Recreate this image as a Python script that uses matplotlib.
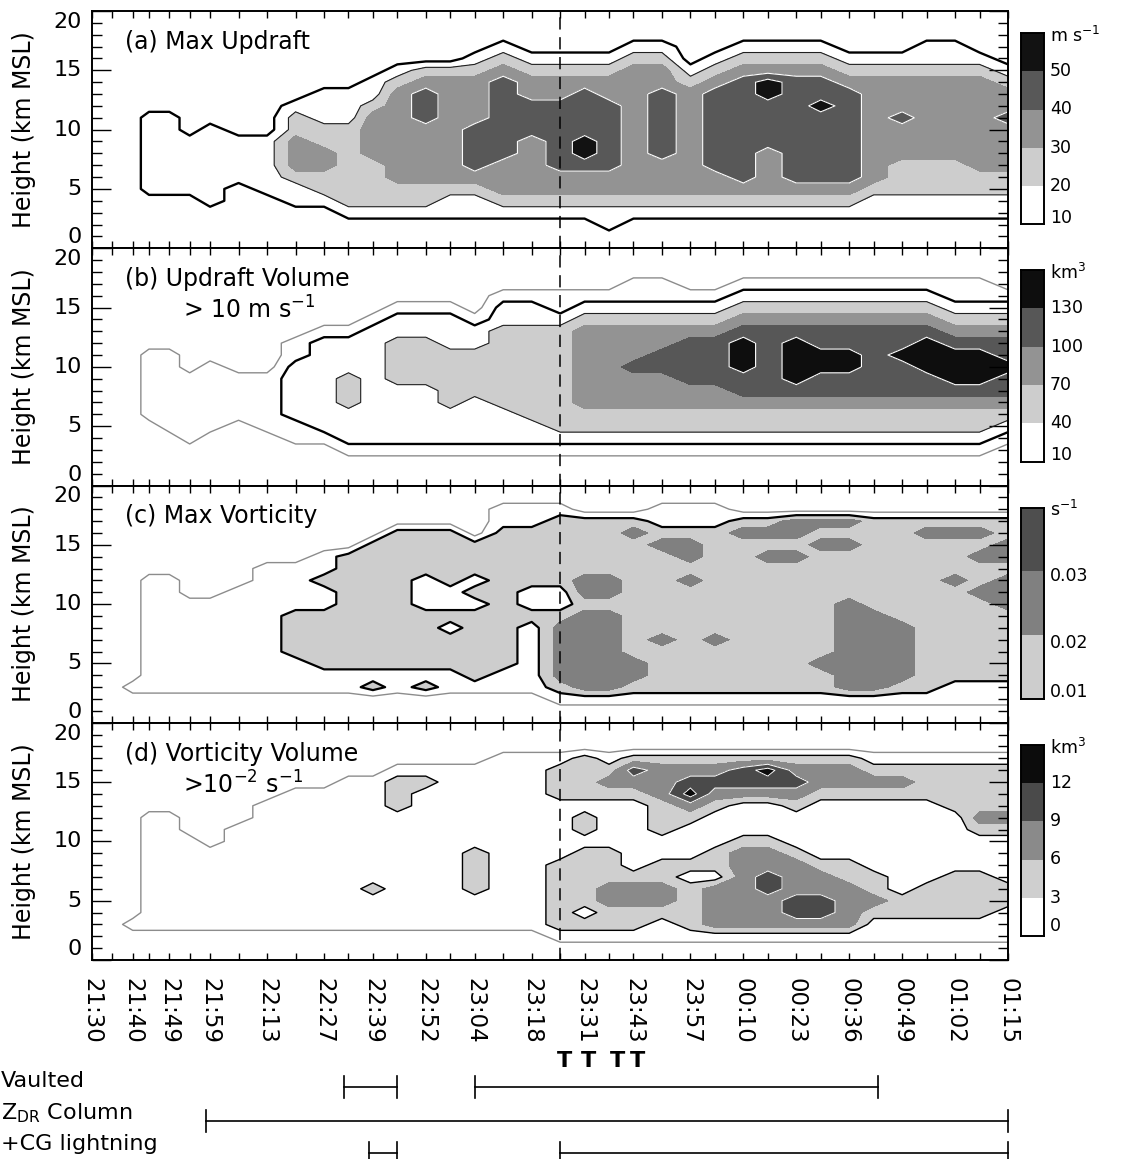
import numpy as np
import matplotlib
matplotlib.use("Agg")
import matplotlib.pyplot as plt
from matplotlib.transforms import blended_transform_factory

plt.rcParams["font.family"] = ["DejaVu Sans"]
plt.rcParams["mathtext.fontset"] = "dejavusans"

# ---------------------------------------------------------------- data
# radar volume scan times (UTC); the analysis starts at 21:30
volume_times = ["21:30", "21:35", "21:40", "21:44", "21:49", "21:54", "21:59", "22:06",
                "22:13", "22:20", "22:27", "22:33", "22:39", "22:45", "22:52", "22:58",
                "23:04", "23:11", "23:18", "23:25", "23:31", "23:37", "23:43", "23:50",
                "23:57", "00:03", "00:10", "00:16", "00:23", "00:29", "00:36", "00:42",
                "00:49", "00:55", "01:02", "01:08", "01:15"]
labeled_times = ["21:30", "21:40", "21:49", "21:59", "22:13", "22:27", "22:39", "22:52",
                 "23:04", "23:18", "23:31", "23:43", "23:57", "00:10", "00:23", "00:36",
                 "00:49", "01:02", "01:15"]
heights_km = list(range(21))
height_labels = [0, 5, 10, 15, 20]
marker_time = "23:25"

# Each string is one volume scan: the bin index of the quantity at 0, 1, ..., 20 km MSL.
# Bin k lies between edges[k-1] and edges[k]; bin 0 is below the first edge.
updraft_edges = [10, 20, 30, 40, 50]            # m s-1
updraft_max_bins = [
    "000000000000000000000", "000000000000000000000", "000000000000000000000",
    "000001111111000000000", "000001111111000000000", "000001111100000000000",
    "000011111110000000000", "000000111100000000000", "000001111100000000000",
    "000011233322100000000", "000012233221110000000", "000122222221110000000",
    "000122223333211000000", "000122333333332100000", "000122333334443200000",
    "000112333333333200000", "000112344443333210000", "000123334444444321000",
    "000123333344433210000", "000123344444433210000", "000123345544443210000",
    "001123344444433210000", "000123333333333321000", "000123334444443321000",
    "000123333333332100000", "000123344444443210000", "000123444444444321000",
    "000123333444455321000", "000123444444444321000", "000123444444544321000",
    "000123444444443210000", "000112333333333210000", "000112223334333210000",
    "000112223333333211000", "000112223333333211000", "000112233333333210000",
    "000112233334332100000",
]

updraft_volume_edges = [0, 10, 40, 70, 100, 130]   # km3
updraft_volume_bins = [
    "000000000000000000000", "000000000000000000000", "000000000000000000000",
    "000000111111000000000", "000001111111000000000", "000011111100000000000",
    "000001111110000000000", "000000111100000000000", "000001111100000000000",
    "000011222221100000000", "000012222222210000000", "000122233322210000000",
    "000122222222221000000", "000122222333322100000", "000122222333322100000",
    "000122233333222100000", "000122223333221000000", "000122233333332210000",
    "000122333333332210000", "000123333333332110000", "000123344444443210000",
    "000123344444443210000", "000123344454443211000", "000123344455443211000",
    "000123344555543210000", "000123344555543210000", "000123345566654321000",
    "000123345555554321000", "000123345666654321000", "000123345566554321000",
    "000123345566554321000", "000123345555554321000", "000123345556554321000",
    "000123345566654321000", "000123345666543211000", "000123345666543211000",
    "000012345565543210000",
]

vorticity_edges = [0.0, 0.01, 0.02, 0.03]        # s-1
max_vorticity_bins = [
    "000000000000000000000", "000000000000000000000", "000100000000000000000",
    "000111111111100000000", "000111111111100000000", "000111111110000000000",
    "000111111110000000000", "000111111111000000000", "000111111111110000000",
    "000111222211110000000", "000112222211211000000", "000112222222222000000",
    "000212222222222200000", "000112222222222220000", "000212222211122220000",
    "000112221211222220000", "000122222212122200000", "000112222222222221100",
    "000111111211222221100", "001233333211222222100", "001333333323322222000",
    "001333333323322222000", "001233222222222232000", "001222232222222321100",
    "001222222222323321100", "001222232222222221100", "001222222222222232000",
    "001222222222223232000", "001222222222223233000", "001223222222222323000",
    "001333333332222323000", "001333333322222222000", "001233333222222222000",
    "001222222222222232000", "001122222222322232000", "001122222223223232000",
    "001122222233323322000",
]

vorticity_volume_edges = [0, 3, 6, 9, 12]        # km3
vorticity_volume_bins = [
    "000000000000000000000", "000000000000000000000", "000100000000000000000",
    "000111111111100000000", "000111111111100000000", "000111111110000000000",
    "000111111100000000000", "000111111111000000000", "000111111111110000000",
    "000111111111111000000", "000111111111111000000", "000111111111111100000",
    "000111211111111100000", "000111111111122210000", "000111111111111210000",
    "000111111111111110000", "000111222211111110000", "000111111111111111000",
    "000111111111111111000", "001222222111112221000", "001212222212212222000",
    "001223322211112321000", "001223321111112342000", "001123322112223332000",
    "001222212111235432000", "001333312211123432000", "001333333321113442000",
    "001333443321113452000", "001344333211123432000", "001344332111112332000",
    "001333322111112332000", "001123221111112321000", "001122111111112321000",
    "001122211111112221000", "001122221111122221000", "001122221112322221000",
    "001112211112322221000",
]

# storm attributes shown below the time axis
tornado_times = ["23:26", "23:32", "23:39", "23:44"]
vaulted_periods = [("22:32", "22:45"), ("23:04", "00:43")]
zdr_column_periods = [("21:58", "01:15")]
positive_cg_periods = [("22:38", "22:45"), ("23:25", "01:15")]

# ---------------------------------------------------------------- helpers
START = 21 * 60 + 30


def minutes(hhmm):
    h, m = map(int, hhmm.split(":"))
    return (h * 60 + m - START) % 1440


def to_grid(columns):
    for c in columns:
        if len(c) != len(heights_km):
            raise ValueError("bad column length: %r" % c)
    return np.array([[int(ch) for ch in c] for c in columns], dtype=float).T


W, H = 1121, 1159


def fx(px):
    return px / W


def fy(py):
    return 1.0 - py / H


t_vol = np.array([minutes(t) for t in volume_times], dtype=float)
X, Y = np.meshgrid(t_vol, np.array(heights_km, dtype=float))

FS = 16
fig = plt.figure(figsize=(W / 100, H / 100), dpi=100)

panel_edges = [11, 248.25, 485.5, 722.75, 960]
x0_px, x1_px = 92, 1008

panels = [
    dict(bins=updraft_max_bins, edges=updraft_edges,
         fills=["white", "white", "#cdcdcd", "#939393", "#585858", "#121212"],
         lines=[("k", 1.7), ("#202020", 0.8), None, ("white", 0.8), ("white", 0.8)],
         title=["(a) Max Updraft"],
         cbar_first=1, cbar_labels=["10", "20", "30", "40", "50"],
         cbar_pos=[0.035, 0.2, 0.4, 0.6, 0.8], unit=r"m s$^{-1}$"),
    dict(bins=updraft_volume_bins, edges=updraft_volume_edges,
         fills=["white", "white", "white", "#cdcdcd", "#939393", "#575757", "#0e0e0e"],
         lines=[("#8c8c8c", 1.0), ("k", 1.7), ("#202020", 0.8), None, None, ("white", 0.8)],
         title=["(b) Updraft Volume", r"> 10 m s$^{-1}$"],
         cbar_first=2, cbar_labels=["10", "40", "70", "100", "130"],
         cbar_pos=[0.035, 0.2, 0.4, 0.6, 0.8], unit=r"km$^3$"),
    dict(bins=max_vorticity_bins, edges=vorticity_edges,
         fills=["white", "white", "#cdcdcd", "#808080", "#4e4e4e"],
         lines=[("#8c8c8c", 1.0), ("k", 1.6), None, None],
         title=["(c) Max Vorticity"],
         cbar_first=2, cbar_labels=["0.01", "0.02", "0.03"],
         cbar_pos=[0.035, 0.29, 0.64], unit=r"s$^{-1}$"),
    dict(bins=vorticity_volume_bins, edges=vorticity_volume_edges,
         fills=["white", "white", "#cfcfcf", "#8a8a8a", "#4a4a4a", "#0c0c0c"],
         lines=[("#8c8c8c", 1.0), ("k", 1.0), None, ("white", 0.7), ("white", 0.7)],
         title=["(d) Vorticity Volume", r">10$^{-2}$ s$^{-1}$"],
         cbar_first=1, cbar_labels=["0", "3", "6", "9", "12"],
         cbar_pos=[0.05, 0.2, 0.4, 0.6, 0.8], unit=r"km$^3$"),
]

major_t = [minutes(t) for t in labeled_times]
minor_t = [minutes(t) for t in volume_times if t not in labeled_times]

axes = []
for i, p in enumerate(panels):
    top, bot = panel_edges[i], panel_edges[i + 1]
    ax = fig.add_axes([fx(x0_px), fy(bot), (x1_px - x0_px) / W, (bot - top) / H])
    axes.append(ax)
    Z = to_grid(p["bins"])
    ncat = len(p["edges"]) + 1
    ax.contourf(X, Y, Z, levels=np.arange(-0.5, ncat, 1.0), colors=p["fills"])
    for k, style in enumerate(p["lines"]):
        if style is None:
            continue
        if Z.min() < k + 0.5 < Z.max():
            ax.contour(X, Y, Z, levels=[k + 0.5], colors=[style[0]],
                       linewidths=style[1])
    ax.axvline(minutes(marker_time), color="k", lw=1.1, ls=(0, (8, 5)))

    ax.set_xlim(0, 225)
    ax.set_ylim(0, 20)
    ax.set_xticks(major_t)
    ax.set_xticks(minor_t, minor=True)
    ax.set_yticks(height_labels)
    ax.set_yticks(heights_km, minor=True)
    ax.set_yticklabels([])
    ax.tick_params(axis="x", which="both", direction="in", top=True, bottom=True,
                   length=5, width=1.0)
    ax.tick_params(axis="y", which="major", direction="in", left=True, right=True,
                   length=14, width=1.0)
    ax.tick_params(axis="y", which="minor", direction="in", left=True, right=True,
                   length=7, width=1.0)
    for s in ax.spines.values():
        s.set_linewidth(1.4)
    if i < 3:
        ax.tick_params(axis="x", labelbottom=False)
    else:
        ax.set_xticklabels(labeled_times, rotation=-90, fontsize=16.5)
        ax.tick_params(axis="x", pad=13)

    # height labels: the end labels sit just inside the panel's top and bottom
    ytr = blended_transform_factory(ax.transAxes, ax.transData)
    for h in height_labels:
        va = "top" if h == 20 else ("bottom" if h == 0 else "center")
        dy = -0.08 if h == 20 else (0.08 if h == 0 else 0.0)
        ax.text(-0.011, h + dy, str(h), transform=ytr, ha="right", va=va, fontsize=FS)

    ax.text((125 - x0_px) / (x1_px - x0_px), 1 - 31 / (bot - top), p["title"][0],
            transform=ax.transAxes, fontsize=17, ha="left", va="center")
    if len(p["title"]) > 1:
        ax.text((183 - x0_px) / (x1_px - x0_px), 1 - 62 / (bot - top), p["title"][1],
                transform=ax.transAxes, fontsize=17, ha="left", va="center")

    fig.text(fx(24), fy((top + bot) / 2), "Height (km MSL)", rotation=90,
             ha="center", va="center", fontsize=17)

    # stepped colour key
    ctop, cbot = top + 22, bot - 24
    cax = fig.add_axes([fx(1021), fy(cbot), (1044 - 1021) / W, (cbot - ctop) / H])
    key = p["fills"][p["cbar_first"]:]
    n = len(key)
    for k, c in enumerate(key):
        cax.axhspan(k / n, (k + 1) / n, color=c, lw=0)
    cax.set_xlim(0, 1)
    cax.set_ylim(0, 1)
    cax.set_xticks([])
    cax.set_yticks([])
    for s in cax.spines.values():
        s.set_linewidth(1.4)
    for pos, lab in zip(p["cbar_pos"], p["cbar_labels"]):
        cax.text(1.25, pos, lab, transform=cax.transAxes, fontsize=12.5,
                 ha="left", va="center")
    cax.text(1.25, 0.985, p["unit"], transform=cax.transAxes, fontsize=12.5,
             ha="left", va="center")

# ---------------------------------------------------------------- storm attributes
axd = axes[-1]
blend = blended_transform_factory(axd.transData, fig.transFigure)
cap = 11 / H


def period_bar(periods, ypx):
    y = fy(ypx)
    for a, b in periods:
        ta, tb = minutes(a), minutes(b)
        axd.plot([ta, tb], [y, y], color="k", lw=1.2, transform=blend, clip_on=False)
        for tt in (ta, tb):
            axd.plot([tt, tt], [y - cap, y + cap], color="k", lw=1.2,
                     transform=blend, clip_on=False)


for t in tornado_times:
    axd.text(minutes(t), fy(1061), "T", transform=blend, ha="center", va="center",
             fontsize=16, fontweight="bold", clip_on=False)

period_bar(vaulted_periods, 1087)
period_bar(zdr_column_periods, 1121)
period_bar(positive_cg_periods, 1153)

fig.text(fx(1), fy(1081), "Vaulted", ha="left", va="center", fontsize=FS)
fig.text(fx(1), fy(1113), r"Z$_{\mathrm{DR}}$ Column", ha="left", va="center", fontsize=FS)
fig.text(fx(1), fy(1144), "+CG lightning", ha="left", va="center", fontsize=FS)

fig.savefig("out.png", dpi=100)
